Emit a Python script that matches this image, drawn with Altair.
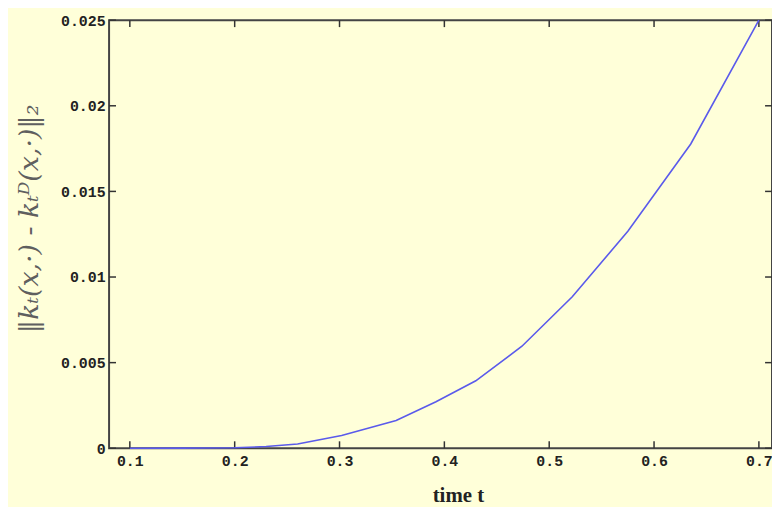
import altair as alt
import pandas as pd

# curve
t_vals = [0.10, 0.15, 0.20, 0.23, 0.26, 0.302, 0.354, 0.392, 0.43, 0.474, 0.522, 0.575, 0.635, 0.70]
err_vals = [0.0, 0.000005, 0.00003, 0.00010, 0.00025, 0.00075, 0.00162, 0.00272, 0.00394, 0.00596, 0.00885, 0.01267, 0.01777, 0.025]

x_ticks = [0.1, 0.2, 0.3, 0.4, 0.5, 0.6, 0.7]
y_ticks = [0.0, 0.005, 0.01, 0.015, 0.02, 0.025]

BG = "#FFFFD9"
W, H = 669, 432

df = pd.DataFrame({"t": t_vals, "err": err_vals})
xt = pd.DataFrame({"t": x_ticks})
yt = pd.DataFrame({"err": y_ticks})

xscale = alt.Scale(domain=[0.0802, 0.7125], nice=False, zero=False)
yscale = alt.Scale(domain=[0, 0.025], nice=False)

label_font = "Liberation Mono"

line = alt.Chart(df).mark_line(color="#5a5aeb", strokeWidth=1.6).encode(
    x=alt.X("t:Q", scale=xscale,
            axis=alt.Axis(values=x_ticks, format=".1f", ticks=False, domain=False, grid=False,
                          labelFont=label_font, labelFontWeight="bold", labelFontSize=15,
                          labelColor="#222222", labelPadding=5,
                          title="time t", titleFont="Liberation Serif", titleFontWeight="bold",
                          titleFontSize=21, titleColor="#222222",
                          titleX=352, titleY=54, titleBaseline="alphabetic", titleAlign="center")),
    y=alt.Y("err:Q", scale=yscale,
            axis=alt.Axis(values=y_ticks, ticks=False, domain=False, grid=False,
                          labelExpr="datum.value == 0 ? '0' : format(datum.value, '.3~f')",
                          labelFont=label_font, labelFontWeight="bold", labelFontSize=15,
                          labelColor="#222222", labelPadding=4,
                          title="‖kₜ(x,·) - kₜᴰ(x,·)‖₂", titleFont="DejaVu Serif",
                          titleFontSize=27, titleColor="#5f5f5f", titleFontWeight="normal",
                          titleFontStyle="italic",
                          titleAngle=-90, titleX=-80, titleY=200,
                          titleAlign="center", titleBaseline="middle")),
)

tick_col = "#333333"
xb = alt.Chart(xt).mark_rule(color=tick_col, strokeWidth=1.5).encode(
    x=alt.X("t:Q", scale=xscale), y=alt.value(H), y2=alt.value(H - 7))
xtop = alt.Chart(xt).mark_rule(color=tick_col, strokeWidth=1.5).encode(
    x=alt.X("t:Q", scale=xscale), y=alt.value(0), y2=alt.value(7))
yl = alt.Chart(yt).mark_rule(color=tick_col, strokeWidth=1.5).encode(
    y=alt.Y("err:Q", scale=yscale), x=alt.value(0), x2=alt.value(7))
yr = alt.Chart(yt).mark_rule(color=tick_col, strokeWidth=1.5).encode(
    y=alt.Y("err:Q", scale=yscale), x=alt.value(W), x2=alt.value(W - 7))

chart = alt.layer(xb, xtop, yl, yr, line).properties(
    width=W, height=H,
    autosize=alt.AutoSizeParams(type="none"),
    padding={"left": 102, "top": 10, "right": 0, "bottom": 57},
    background=BG,
).configure_view(
    fill=BG, stroke="#444444", strokeWidth=2
)

chart.save("out.html", embed_options={"renderer": "svg", "actions": False})
